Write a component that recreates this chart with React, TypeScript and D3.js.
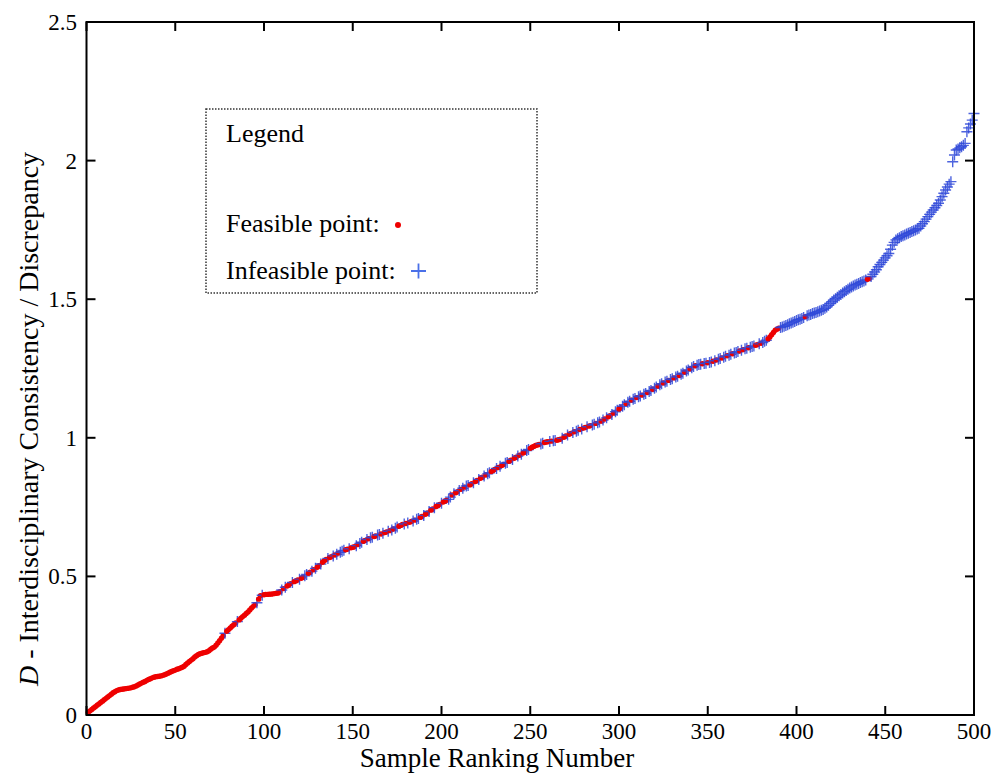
import React from "react";
import * as d3 from "d3";

// D values for sample ranks 1..500 (rows of 10)
const dValues: number[] = [
  0.010, 0.015, 0.020, 0.025, 0.030, 0.035, 0.040, 0.045, 0.050, 0.055,
  0.060, 0.065, 0.070, 0.075, 0.080, 0.084, 0.088, 0.090, 0.092, 0.093,
  0.094, 0.095, 0.096, 0.097, 0.098, 0.100, 0.102, 0.105, 0.108, 0.112,
  0.115, 0.118, 0.121, 0.125, 0.128, 0.131, 0.134, 0.136, 0.138, 0.139,
  0.140, 0.141, 0.143, 0.145, 0.148, 0.151, 0.154, 0.157, 0.160, 0.162,
  0.165, 0.167, 0.170, 0.172, 0.176, 0.182, 0.188, 0.193, 0.198, 0.203,
  0.209, 0.214, 0.218, 0.221, 0.223, 0.225, 0.226, 0.228, 0.232, 0.237,
  0.242, 0.245, 0.252, 0.260, 0.268, 0.277, 0.286, 0.295, 0.302, 0.308,
  0.314, 0.320, 0.326, 0.332, 0.337, 0.343, 0.349, 0.355, 0.360, 0.366,
  0.372, 0.379, 0.386, 0.392, 0.398, 0.405, 0.418, 0.430, 0.432, 0.434,
  0.435, 0.435, 0.436, 0.436, 0.437, 0.438, 0.439, 0.440, 0.445, 0.451,
  0.456, 0.461, 0.465, 0.470, 0.474, 0.478, 0.481, 0.484, 0.487, 0.490,
  0.493, 0.497, 0.502, 0.507, 0.511, 0.515, 0.519, 0.524, 0.529, 0.533,
  0.539, 0.545, 0.551, 0.557, 0.561, 0.565, 0.568, 0.571, 0.574, 0.577,
  0.580, 0.584, 0.587, 0.591, 0.594, 0.596, 0.598, 0.600, 0.603, 0.605,
  0.607, 0.611, 0.615, 0.619, 0.623, 0.627, 0.630, 0.633, 0.636, 0.639,
  0.641, 0.644, 0.646, 0.649, 0.651, 0.653, 0.656, 0.658, 0.660, 0.663,
  0.665, 0.667, 0.671, 0.674, 0.678, 0.681, 0.684, 0.687, 0.689, 0.691,
  0.693, 0.695, 0.698, 0.700, 0.703, 0.706, 0.709, 0.713, 0.716, 0.720,
  0.724, 0.729, 0.734, 0.739, 0.743, 0.748, 0.752, 0.756, 0.760, 0.764,
  0.768, 0.772, 0.775, 0.778, 0.786, 0.794, 0.798, 0.802, 0.806, 0.810,
  0.814, 0.818, 0.822, 0.826, 0.828, 0.830, 0.834, 0.838, 0.842, 0.846,
  0.850, 0.854, 0.858, 0.862, 0.866, 0.870, 0.874, 0.878, 0.882, 0.886,
  0.889, 0.893, 0.897, 0.900, 0.904, 0.908, 0.911, 0.915, 0.919, 0.922,
  0.926, 0.930, 0.934, 0.937, 0.941, 0.945, 0.949, 0.954, 0.958, 0.962,
  0.966, 0.969, 0.972, 0.974, 0.976, 0.978, 0.980, 0.983, 0.985, 0.986,
  0.987, 0.988, 0.989, 0.990, 0.991, 0.993, 0.995, 0.998, 1.002, 1.007,
  1.010, 1.013, 1.016, 1.019, 1.022, 1.024, 1.027, 1.030, 1.032, 1.035,
  1.037, 1.040, 1.042, 1.044, 1.046, 1.049, 1.052, 1.054, 1.057, 1.060,
  1.064, 1.068, 1.072, 1.076, 1.080, 1.084, 1.089, 1.094, 1.099, 1.104,
  1.109, 1.114, 1.119, 1.124, 1.128, 1.132, 1.136, 1.139, 1.142, 1.145,
  1.148, 1.151, 1.154, 1.157, 1.160, 1.163, 1.167, 1.171, 1.175, 1.179,
  1.183, 1.187, 1.191, 1.195, 1.198, 1.201, 1.204, 1.207, 1.210, 1.213,
  1.216, 1.219, 1.222, 1.225, 1.229, 1.233, 1.237, 1.241, 1.245, 1.249,
  1.253, 1.257, 1.260, 1.262, 1.264, 1.265, 1.267, 1.268, 1.269, 1.271,
  1.272, 1.273, 1.276, 1.278, 1.281, 1.283, 1.286, 1.288, 1.291, 1.294,
  1.296, 1.298, 1.301, 1.303, 1.306, 1.308, 1.311, 1.313, 1.316, 1.318,
  1.321, 1.323, 1.325, 1.327, 1.329, 1.331, 1.334, 1.336, 1.339, 1.341,
  1.344, 1.348, 1.352, 1.357, 1.364, 1.372, 1.380, 1.388, 1.392, 1.395,
  1.398, 1.400, 1.402, 1.405, 1.408, 1.411, 1.414, 1.417, 1.420, 1.423,
  1.426, 1.428, 1.430, 1.434, 1.437, 1.440, 1.443, 1.445, 1.448, 1.450,
  1.452, 1.455, 1.457, 1.460, 1.463, 1.467, 1.472, 1.478, 1.485, 1.491,
  1.497, 1.502, 1.507, 1.512, 1.517, 1.522, 1.527, 1.531, 1.536, 1.540,
  1.544, 1.548, 1.551, 1.554, 1.557, 1.560, 1.563, 1.566, 1.569, 1.572,
  1.575, 1.582, 1.590, 1.598, 1.606, 1.617, 1.625, 1.633, 1.641, 1.649,
  1.657, 1.665, 1.680, 1.695, 1.705, 1.714, 1.718, 1.722, 1.726, 1.729,
  1.732, 1.735, 1.738, 1.741, 1.744, 1.747, 1.750, 1.753, 1.756, 1.764,
  1.772, 1.780, 1.789, 1.798, 1.806, 1.814, 1.822, 1.830, 1.838, 1.846,
  1.858, 1.870, 1.882, 1.894, 1.905, 1.915, 1.924, 1.996, 2.020, 2.038,
  2.042, 2.046, 2.050, 2.055, 2.062, 2.104, 2.118, 2.132, 2.146, 2.170,
];

// Point type per rank, groups of 10 ranks: f = feasible, i = infeasible
const pointTypeGroups: string[] = [
  "ffffffffff", "ffffffffff", "ffffffffff", "ffffffffff", "ffffffffff", // 1-50
  "ffffffffff", "ffffffffff", "fffffffiff", "ffffifffff", "fffffiffif", // 51-100
  "fffffffffi", "fifffifffi", "ffiiffifif", "fifffiffif", "ifiiiffiff", // 101-150
  "fifiiffifi", "iffiififfi", "fifiifffif", "iffifiiffi", "ffiffifffi", // 151-200
  "fffiififfi", "fifiiffiff", "iffifiifff", "ififfiiffi", "ffififfiif", // 201-250
  "fffffiifff", "ifiifffiff", "iffifiifif", "fiffiifiif", "ififfifiif", // 251-300
  "fiifiifiif", "iifiifiifi", "ifiifiifii", "fiifiifiif", "iifiiifiif", // 301-350
  "iififiifii", "fiifiiifif", "iifiiiffif", "iiifffffff", "iiiiiiiiii", // 351-400
  "iiiifiiiii", "iiiiiiiiii", "iiiiiiiiii", "iiiiiiiiif", "fiiiiiiiii", // 401-450
  "iiiiiiiiii", "iiiiiiiiii", "iiiiiiiiii", "iiiiiiiiii", "iiiiiiiiii", // 451-500
];

const xTicks: number[] = [0, 50, 100, 150, 200, 250, 300, 350, 400, 450, 500];
const yTicks: number[] = [0, 0.5, 1, 1.5, 2, 2.5];
const yTickLabels: string[] = ["0", "0.5", "1", "1.5", "2", "2.5"];

const xLabel = "Sample Ranking Number";
const yLabelItalic = "D";
const yLabelRest = " - Interdisciplinary Consistency / Discrepancy";
const legendTitle = "Legend";
const legendFeasible = "Feasible point:";
const legendInfeasible = "Infeasible point:";

const W = 1006;
const H = 774;
const left = 86.5;
const right = 974;
const top = 22;
const bottom = 715;

const FONT = "'Liberation Serif', 'Times New Roman', serif";
const RED = "#ee0000";
const BLUE = "#2e48d8";

export default function App() {
  const x = d3.scaleLinear().domain([0, 500]).range([left, right]);
  const y = d3.scaleLinear().domain([0, 2.5]).range([bottom, top]);

  const flags = pointTypeGroups.join("");
  const pts = dValues.map((v, i) => ({
    rank: i + 1,
    v,
    feasible: flags[i] !== "i",
  }));

  const tickLen = 9;
  const plus = 5.5;

  return (
    <svg
      width={W}
      height={H}
      style={{ position: "absolute", left: 0, top: 0, background: "#fff" }}
      fontFamily={FONT}
    >
      <rect x={0} y={0} width={W} height={H} fill="#fff" />

      {/* points */}
      <g>
        {pts.map((p) =>
          p.feasible ? (
            <circle key={p.rank} cx={x(p.rank)} cy={y(p.v)} r={2.7} fill={RED} />
          ) : (
            <path
              key={p.rank}
              d={`M${x(p.rank) - plus},${y(p.v)}h${plus * 2}M${x(p.rank)},${y(p.v) - plus}v${plus * 2}`}
              stroke={BLUE}
              strokeWidth={1.4}
              strokeOpacity={0.85}
              fill="none"
            />
          )
        )}
      </g>

      {/* axes box */}
      <rect
        x={left}
        y={top}
        width={right - left}
        height={bottom - top}
        fill="none"
        stroke="#000"
        strokeWidth={2}
      />
      {xTicks.map((t) => (
        <g key={"xt" + t}>
          <line x1={x(t)} x2={x(t)} y1={bottom} y2={bottom - tickLen} stroke="#000" strokeWidth={2} />
          <line x1={x(t)} x2={x(t)} y1={top} y2={top + tickLen} stroke="#000" strokeWidth={2} />
          <text x={x(t)} y={739} textAnchor="middle" fontSize={23} fill="#000">
            {t}
          </text>
        </g>
      ))}
      {yTicks.map((t, i) => (
        <g key={"yt" + t}>
          <line x1={left} x2={left + tickLen} y1={y(t)} y2={y(t)} stroke="#000" strokeWidth={2} />
          <line x1={right} x2={right - tickLen} y1={y(t)} y2={y(t)} stroke="#000" strokeWidth={2} />
          <text x={77} y={y(t) + 8} textAnchor="end" fontSize={23} fill="#000">
            {yTickLabels[i]}
          </text>
        </g>
      ))}

      {/* axis labels */}
      <text x={497} y={767} textAnchor="middle" fontSize={27} fill="#000">
        {xLabel}
      </text>
      <text
        transform={`translate(38,419) rotate(-90)`}
        textAnchor="middle"
        fontSize={28}
        fill="#000"
      >
        <tspan fontStyle="italic">{yLabelItalic}</tspan>
        <tspan>{yLabelRest}</tspan>
      </text>

      {/* legend */}
      <rect
        x={206}
        y={109}
        width={331}
        height={184}
        fill="#fff"
        stroke="#333"
        strokeWidth={1.5}
        strokeDasharray="1.5,1.5"
      />
      <text x={226} y={142} fontSize={26} fill="#000">
        {legendTitle}
      </text>
      <text x={226} y={232} fontSize={26} fill="#000">
        {legendFeasible}
      </text>
      <circle cx={398} cy={225} r={3} fill={RED} />
      <text x={226} y={279} fontSize={26} fill="#000">
        {legendInfeasible}
      </text>
      <path d="M411,271h15M418.5,263.5v15" stroke="#4a70e8" strokeWidth={1.8} fill="none" />
    </svg>
  );
}
